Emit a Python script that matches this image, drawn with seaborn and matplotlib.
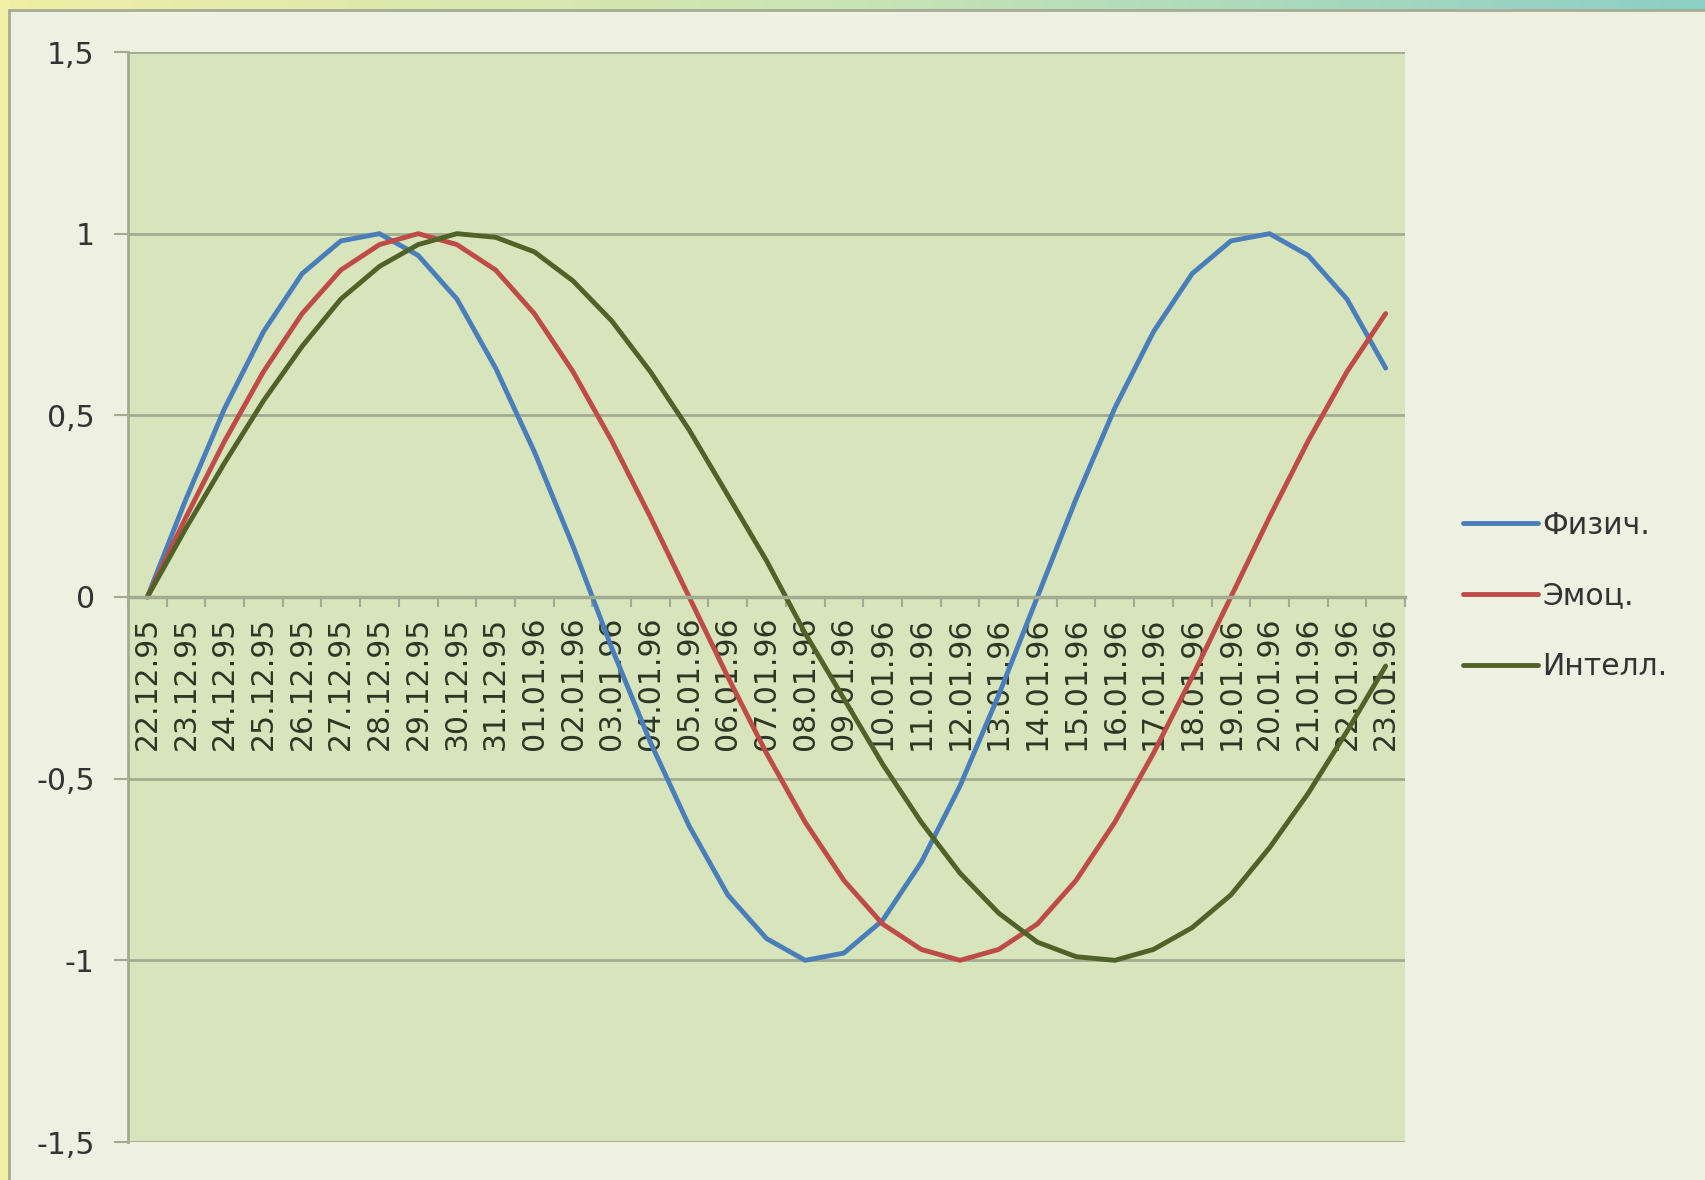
import numpy as np
import pandas as pd
import matplotlib
matplotlib.use("Agg")
import matplotlib.pyplot as plt
from matplotlib.lines import Line2D
from matplotlib.patches import Rectangle
from matplotlib.colors import LinearSegmentedColormap
import seaborn as sns

# Biorhythm values, one point per day
dates = ['22.12.95', '23.12.95', '24.12.95', '25.12.95', '26.12.95', '27.12.95',
         '28.12.95', '29.12.95', '30.12.95', '31.12.95', '01.01.96', '02.01.96',
         '03.01.96', '04.01.96', '05.01.96', '06.01.96', '07.01.96', '08.01.96',
         '09.01.96', '10.01.96', '11.01.96', '12.01.96', '13.01.96', '14.01.96',
         '15.01.96', '16.01.96', '17.01.96', '18.01.96', '19.01.96', '20.01.96',
         '21.01.96', '22.01.96', '23.01.96']

fizich = [0.0, 0.27, 0.52, 0.73, 0.89, 0.98, 1.0, 0.94, 0.82, 0.63, 0.40, 0.14,
          -0.14, -0.40, -0.63, -0.82, -0.94, -1.0, -0.98, -0.89, -0.73, -0.52,
          -0.27, 0.0, 0.27, 0.52, 0.73, 0.89, 0.98, 1.0, 0.94, 0.82, 0.63]

emots = [0.0, 0.22, 0.43, 0.62, 0.78, 0.90, 0.97, 1.0, 0.97, 0.90, 0.78, 0.62,
         0.43, 0.22, 0.0, -0.22, -0.43, -0.62, -0.78, -0.90, -0.97, -1.0, -0.97,
         -0.90, -0.78, -0.62, -0.43, -0.22, 0.0, 0.22, 0.43, 0.62, 0.78]

intell = [0.0, 0.19, 0.37, 0.54, 0.69, 0.82, 0.91, 0.97, 1.0, 0.99, 0.95, 0.87,
          0.76, 0.62, 0.46, 0.28, 0.10, -0.10, -0.28, -0.46, -0.62, -0.76, -0.87,
          -0.95, -0.99, -1.0, -0.97, -0.91, -0.82, -0.69, -0.54, -0.37, -0.19]

series_names = ['Физич.', 'Эмоц.', 'Интелл.']
yticks = [-1.5, -1, -0.5, 0, 0.5, 1, 1.5]

colors = {'Физич.': '#4a7ebb', 'Эмоц.': '#be4b48', 'Интелл.': '#4f6228'}
grid_col = '#a2ab92'
text_col = '#2e3526'

frames = []
for name, vals in zip(series_names, [fizich, emots, intell]):
    frames.append(pd.DataFrame({'day': np.arange(len(dates)), 'value': vals, 'series': name}))
df = pd.concat(frames, ignore_index=True)

sns.set_theme(style='white')
plt.rcParams['font.family'] = ['DejaVu Sans']

W, H = 1706, 1180
fig = plt.figure(figsize=(W / 100, H / 100), dpi=100, facecolor='#eef0e2')

# window frame: yellow strip left, gradient strip on top, grey border
fig.patches.append(Rectangle((0, 0), 9 / W, 1, transform=fig.transFigure,
                             facecolor='#f2f0a6', edgecolor='none', zorder=0))
top = fig.add_axes([0, 1 - 10 / H, 1, 10 / H])
cmap = LinearSegmentedColormap.from_list('strip', ['#f0eea6', '#c9e4b4', '#8ccfc6'])
top.imshow(np.linspace(0, 1, 256).reshape(1, -1), aspect='auto', cmap=cmap)
top.axis('off')
fig.add_artist(Line2D([9 / W, 9 / W], [0, 1 - 10 / H], transform=fig.transFigure,
                      color='#a5ab95', lw=2))
fig.add_artist(Line2D([9 / W, 1], [1 - 10 / H, 1 - 10 / H], transform=fig.transFigure,
                      color='#a5ab95', lw=2))

ax = fig.add_axes([128 / W, 1 - 1142 / H, (1405 - 128) / W, (1142 - 52) / H])
ax.set_facecolor('#d8e4bc')

sns.lineplot(data=df, x='day', y='value', hue='series', hue_order=series_names,
             palette=colors, lw=3.5, errorbar=None, legend=False, ax=ax)

ax.set_xlim(-0.5, len(dates) - 0.5)
ax.set_ylim(-1.5, 1.5)
ax.set_xlabel('')
ax.set_ylabel('')

ax.set_yticks(yticks, labels=[f'{v:g}'.replace('.', ',') for v in yticks])
ax.yaxis.grid(True, color=grid_col, lw=2)
ax.xaxis.grid(False)
ax.set_axisbelow(True)

ax.set_xticks(np.arange(-0.5, len(dates), 1), minor=True)
ax.set_xticks(np.arange(len(dates)), labels=dates)
ax.tick_params(axis='x', which='major', length=0, pad=14, labelrotation=90,
               labelsize=21.5, labelcolor=text_col)
ax.tick_params(axis='x', which='minor', length=7, width=1.5, color=grid_col,
               direction='out', bottom=True)
ax.tick_params(axis='y', length=10, width=1.5, color=grid_col, pad=14, left=True,
               labelsize=21.5, labelcolor='#333333')

for side in ['top', 'right']:
    ax.spines[side].set_visible(False)
ax.spines['left'].set_color(grid_col)
ax.spines['left'].set_linewidth(2)
ax.spines['bottom'].set_position(('data', 0))
ax.spines['bottom'].set_color(grid_col)
ax.spines['bottom'].set_linewidth(2.5)

handles = [Line2D([0], [0], color=colors[n], lw=3.5) for n in series_names]
fig.legend(handles, series_names, loc='center left', bbox_to_anchor=(1436 / W, 0.495),
           frameon=False, fontsize=21.5, handlelength=2.5, handletextpad=0.15,
           labelspacing=1.4, labelcolor='#333333')

fig.savefig('out.png', dpi=100, facecolor=fig.get_facecolor())
